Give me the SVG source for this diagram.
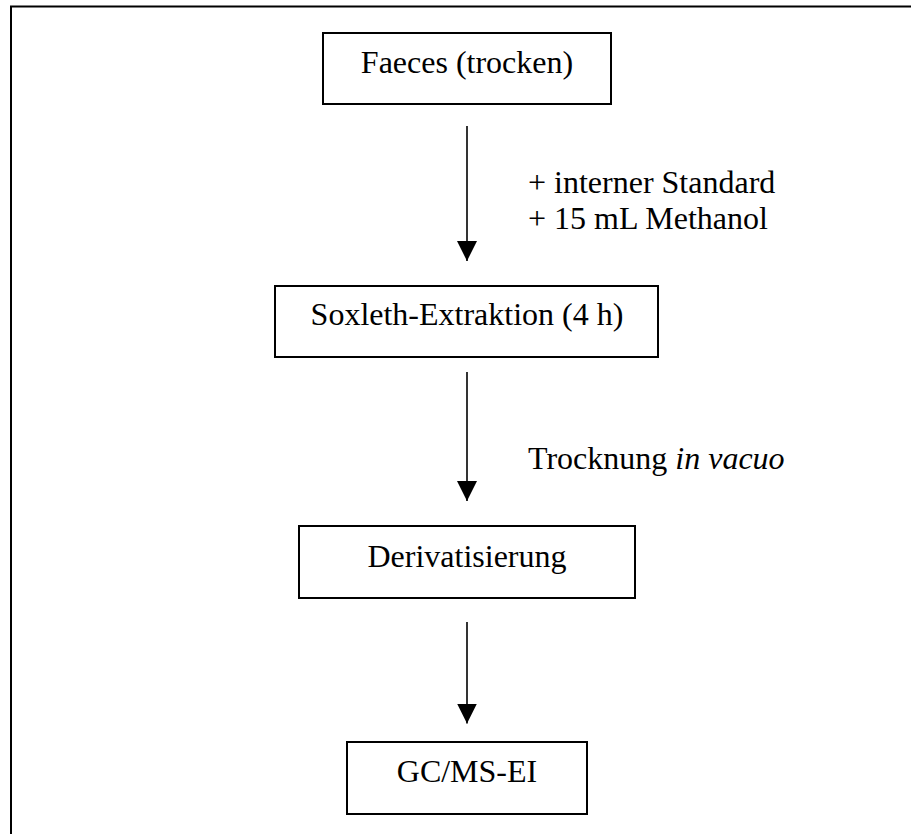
<svg xmlns="http://www.w3.org/2000/svg" width="911" height="834" viewBox="0 0 911 834">
  <style>
    .box { fill: #ffffff; stroke: #000000; stroke-width: 2; }
    .frame { fill: none; stroke: #000000; stroke-width: 2; }
    .txt { font-family: "Liberation Serif", "Times New Roman", serif; font-size: 32px; fill: #000000; }
    .mid { text-anchor: middle; }
    .flow { stroke: #000000; stroke-width: 1.6; fill: none; marker-end: url(#head); }
  </style>
  <defs>
    <!-- solid downward arrowhead, 20 px wide and 20 px long, tip at the line end -->
    <marker id="head" markerUnits="userSpaceOnUse" markerWidth="20" markerHeight="20" viewBox="0 0 20 20" refX="20" refY="10" orient="auto">
      <path d="M0,0 L20,10 L0,20 Z" fill="#000000"/>
    </marker>
  </defs>
  <rect width="911" height="834" fill="#ffffff"/>

  <!-- outer frame (left and top edges) -->
  <path class="frame" d="M11,834 V6.5 H911"/>

  <g id="node-faeces">
    <rect class="box" x="323" y="33" width="288" height="71"/>
    <text class="txt mid" x="467" y="73">Faeces (trocken)</text>
  </g>

  <g id="node-soxleth">
    <rect class="box" x="275" y="286" width="383" height="71"/>
    <text class="txt mid" x="467" y="325">Soxleth-Extraktion (4 h)</text>
  </g>

  <g id="node-derivatisierung">
    <rect class="box" x="299" y="526" width="336" height="72"/>
    <text class="txt mid" x="467" y="566.5">Derivatisierung</text>
  </g>

  <g id="node-gcms">
    <rect class="box" x="347" y="742" width="240" height="72"/>
    <text class="txt mid" x="467" y="781.5">GC/MS-EI</text>
  </g>

  <g id="connectors">
    <line class="flow" x1="467" y1="126" x2="467" y2="261"/>
    <line class="flow" x1="467" y1="372" x2="467" y2="501"/>
    <line class="flow" x1="467" y1="622" x2="467" y2="723.5"/>
    <text class="txt" x="528" y="193">+ interner Standard</text>
    <text class="txt" x="528" y="229">+ 15 mL Methanol</text>
    <text class="txt" x="528" y="469">Trocknung <tspan font-style="italic">in vacuo</tspan></text>
  </g>
</svg>
